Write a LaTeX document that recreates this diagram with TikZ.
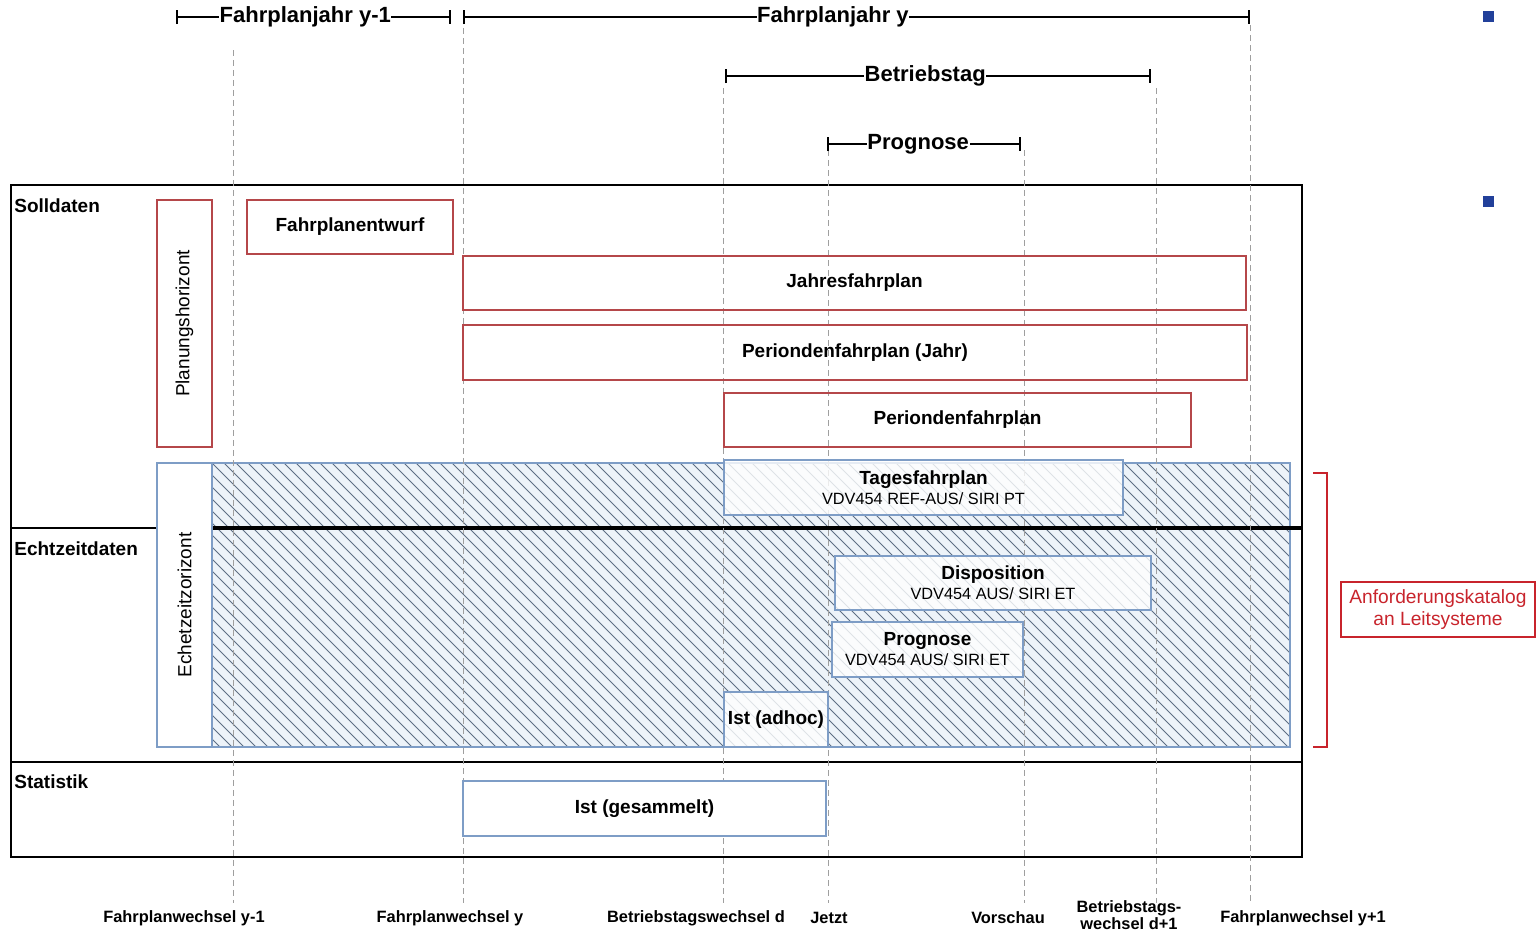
\documentclass[tikz,border=0pt]{standalone}
\usepackage{fontspec}
\setmainfont{Liberation Sans}
\usetikzlibrary{arrows.meta}
\definecolor{boxred}{HTML}{B5474A}
\definecolor{katred}{HTML}{C8242C}
\definecolor{boxblue}{HTML}{7E9DC6}
\definecolor{hatchc}{HTML}{5E6E84}
\definecolor{hatchbg}{HTML}{EDF3F9}
\definecolor{sqblue}{HTML}{22409A}
\begin{document}
\begin{tikzpicture}[x=0.5pt,y=-0.5pt,
  box/.style={draw, line width=1.1pt, inner sep=0pt, align=center, font=\fontsize{9.5}{11}\selectfont\bfseries},
  redbox/.style={box, draw=boxred},
  bluebox/.style={box, draw=boxblue, fill=white, fill opacity=0.8, text opacity=1},
  vbox/.style={box, rotate=90, font=\fontsize{9.5}{11}\selectfont},
  spanline/.style={{Bar[width=7pt,line width=1pt]}-{Bar[width=7pt,line width=1pt]}, line width=1pt},
  spanlabel/.style={fill=white, inner sep=0.3pt, pos=0.47, font=\fontsize{11}{13}\selectfont\bfseries},
  timeline/.style={draw=gray!75, line width=0.5pt, dash pattern=on 3pt off 2pt},
  timelabel/.style={font=\fontsize{8.2}{9}\selectfont\bfseries, align=center, inner sep=0pt},
  section/.style={anchor=west, inner sep=0pt, font=\fontsize{9.5}{11}\selectfont\bfseries},
  frame/.style={line width=1.4pt},
  sq/.style={fill=sqblue, draw=none, minimum size=5.5pt, inner sep=0pt}
]
\newcommand{\subtxt}{\fontsize{8.15}{10}\selectfont\mdseries}
\useasboundingbox (0,0) rectangle (1537,934);

% hatched real-time area
\fill[hatchbg] (212,463) rectangle (1290,747);
\begin{scope}
  \clip (212,463) rectangle (1290,747);
  \foreach \x in {-100,-88,...,1290} {
    \draw[hatchc, line width=0.5pt] (\x,463) -- ++(284,284);
  }
\end{scope}
\draw[boxblue, line width=1.1pt] (212,463) rectangle (1290,747);

% main frame
\draw[frame] (11,185) rectangle (1302,857);
\draw[frame] (11,762) -- (1302,762);
\draw[frame] (11,528) -- (157,528);
\draw[line width=2pt] (212,528) -- (1302,528);

% time lines
\foreach \n/\x/\yt in {fw0/233/50, fw1/463/28, bw0/723/88, jz/828/150, vs/1024/150, bw1/1156/88, fw2/1250/25} {
  \coordinate (\n t) at (\x,\yt);
  \coordinate (\n b) at (\x,903);
  \draw[timeline] (\n t) -- (\n b);
}

% spans on top
\coordinate (s1a) at (176,17);  \coordinate (s1b) at (451,17);
\coordinate (s2a) at (463,17);  \coordinate (s2b) at (1250,17);
\coordinate (s3a) at (725,76);  \coordinate (s3b) at (1151,76);
\coordinate (s4a) at (827,144); \coordinate (s4b) at (1021,144);
\draw[spanline] (s1a) -- (s1b) node[spanlabel] (l1) {Fahrplanjahr y-1};
\draw[spanline] (s2a) -- (s2b) node[spanlabel] (l2) {Fahrplanjahr y};
\draw[spanline] (s3a) -- (s3b) node[spanlabel] (l3) {Betriebstag};
\draw[spanline] (s4a) -- (s4b) node[spanlabel] (l4) {Prognose};

% section labels
\node[section] (soll) at (14,206) {Solldaten};
\node[section] (echt) at (14,549) {Echtzeitdaten};
\node[section] (stat) at (14,782) {Statistik};

% Solldaten boxes
\node[redbox, vbox, draw=boxred, minimum width=123.5pt, minimum height=27.5pt] (plan) at (184.5,323.5) {Planungshorizont};
\node[redbox, minimum width=103pt, minimum height=27pt] (entw) at (350,227) {Fahrplanentwurf};
\node[redbox, minimum width=391.5pt, minimum height=27pt] (jfp) at (854.5,283) {Jahresfahrplan};
\node[redbox, minimum width=392pt, minimum height=27.5pt] (pfj) at (855,352.5) {Periondenfahrplan (Jahr)};
\node[redbox, minimum width=233.5pt, minimum height=27pt] (pf) at (957.5,420) {Periondenfahrplan};

% Echtzeit boxes
\node[vbox, draw=boxblue, fill=white, minimum width=142pt, minimum height=27.5pt] (ehz) at (184.5,605) {Echetzeitzorizont};
\node[bluebox, minimum width=199.5pt, minimum height=27.5pt] (tfp) at (923.5,487.5) {Tagesfahrplan\\[-1pt]{\subtxt VDV454 REF-AUS/ SIRI PT}};
\node[bluebox, minimum width=158pt, minimum height=27pt] (disp) at (993,583) {Disposition\\[-1pt]{\subtxt VDV454 AUS/ SIRI ET}};
\node[bluebox, minimum width=95.5pt, minimum height=27.5pt] (prog) at (927.5,649.5) {Prognose\\[-1pt]{\subtxt VDV454 AUS/ SIRI ET}};
\node[bluebox, minimum width=52pt, minimum height=27.5pt] (ista) at (776,719.5) {Ist (adhoc)};

% Statistik box
\node[bluebox, fill opacity=1, minimum width=181.5pt, minimum height=27.5pt] (istg) at (644.5,808.5) {Ist (gesammelt)};

% bracket and requirement catalogue
\coordinate (br1) at (1313,473);
\coordinate (br2) at (1327,473);
\coordinate (br3) at (1327,747);
\coordinate (br4) at (1313,747);
\draw[katred, line width=1.2pt] (br1) -- (br2) -- (br3) -- (br4);
\node[box, draw=katred, text=katred, font=\fontsize{9.6}{11}\selectfont, minimum width=97pt, minimum height=27.5pt] (kat) at (1438,609.5) {Anforderungskatalog\\an Leitsysteme};

% blue squares
\node[sq] (sq1) at (1488.5,16.5) {};
\node[sq] (sq2) at (1488.5,201.5) {};

% bottom labels
\node[timelabel] (t1) at (184,918) {Fahrplanwechsel y-1};
\node[timelabel] (t2) at (450,918) {Fahrplanwechsel y};
\node[timelabel] (t3) at (696,918) {Betriebstagswechsel d};
\node[timelabel] (t4) at (829,918) {Jetzt};
\node[timelabel] (t5) at (1008,918) {Vorschau};
\node[timelabel, font=\fontsize{8.2}{8.8}\selectfont\bfseries] (t6) at (1129,915) {Betriebstags-\\wechsel d+1};
\node[timelabel] (t7) at (1303,918) {Fahrplanwechsel y+1};
\end{tikzpicture}
\end{document}
